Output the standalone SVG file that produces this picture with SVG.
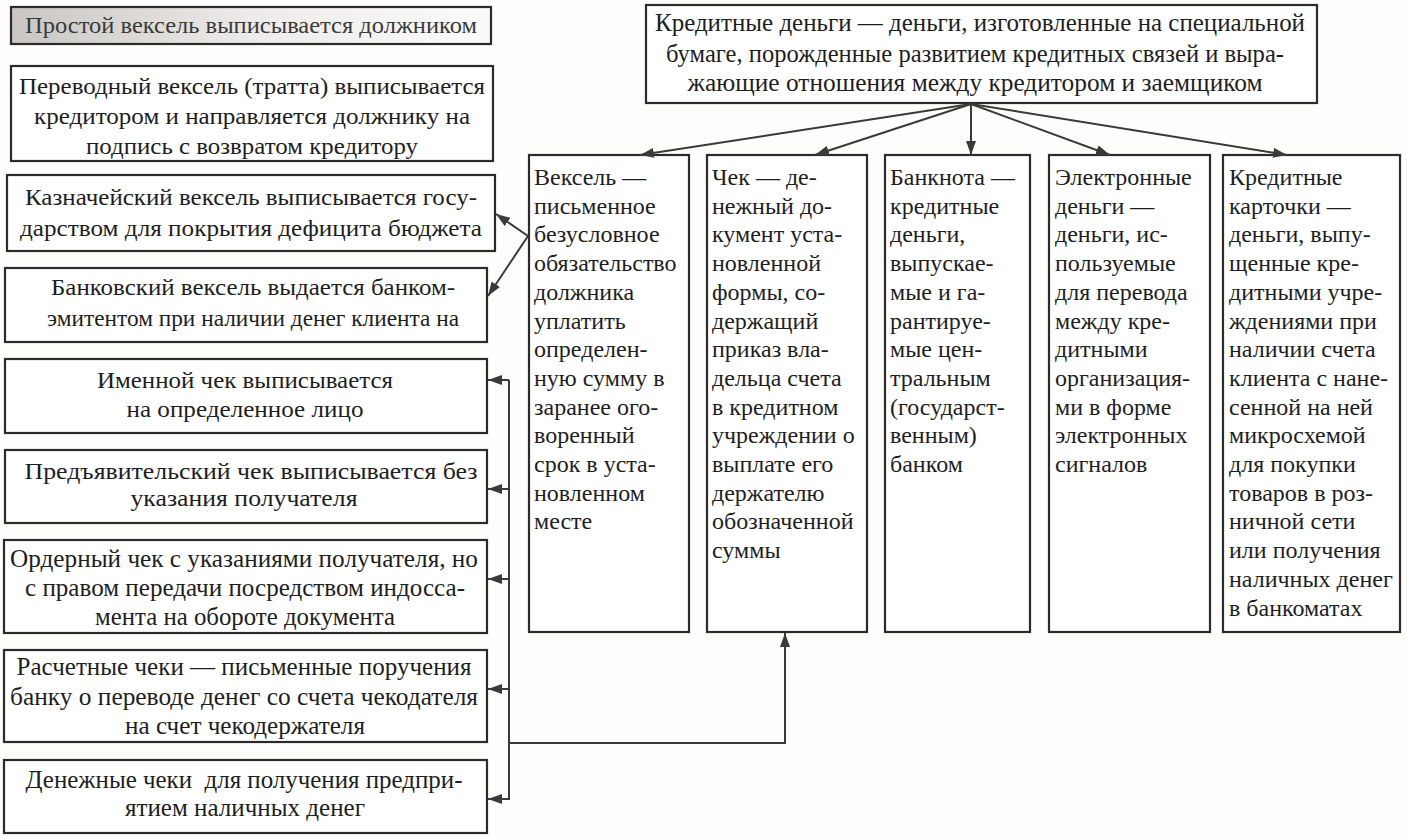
<svg xmlns="http://www.w3.org/2000/svg" width="1407" height="838" viewBox="0 0 1407 838">
<style>
.bx{fill:#fff;stroke:#2b2b2b;stroke-width:2.2}
text{font-family:'Liberation Serif','DejaVu Serif','Noto Serif','Times New Roman',serif;font-size:23px;fill:#1e1e1e}
.c{text-anchor:middle}
.n{font-size:25px}
.col{font-size:24px}
.ln{fill:none;stroke:#3a3a3a;stroke-width:2}
</style>
<defs>
<marker id="ah" viewBox="0 0 14 10" refX="14" refY="5" markerWidth="14" markerHeight="10" markerUnits="userSpaceOnUse" orient="auto">
<path d="M0,0 L14,5 L0,10 z" fill="#3a3a3a"/>
</marker>
<linearGradient id="g1" x1="0" y1="0" x2="1" y2="0">
<stop offset="0" stop-color="#c9c6c2"/>
<stop offset="0.5" stop-color="#ecebe9"/>
<stop offset="1" stop-color="#fbfbfa"/>
</linearGradient>
</defs>
<rect width="1407" height="838" fill="#fdfdfc"/>

<g id="n-prostoy">
<rect class="bx" x="11" y="7" width="480" height="37" style="fill:url(#g1)"/>
<text class="c" x="251" y="33" textLength="452" lengthAdjust="spacingAndGlyphs" style="fill:#3a3a3a">Простой вексель выписывается должником</text>
</g>
<g id="n-perevodnoy">
<rect class="bx" x="11" y="66" width="482" height="95"/>
<text class="c" x="252" y="94" textLength="466" lengthAdjust="spacingAndGlyphs">Переводный вексель (тратта) выписывается</text>
<text class="c" x="252" y="124" textLength="436" lengthAdjust="spacingAndGlyphs">кредитором и направляется должнику на</text>
<text class="c" x="252" y="154" textLength="332" lengthAdjust="spacingAndGlyphs">подпись с возвратом кредитору</text>
</g>
<g id="n-kaznach">
<rect class="bx" x="7" y="175" width="488" height="76"/>
<text class="c" x="251" y="205" textLength="452" lengthAdjust="spacingAndGlyphs">Казначейский вексель выписывается госу-</text>
<text class="c" x="251" y="236" textLength="462" lengthAdjust="spacingAndGlyphs">дарством для покрытия дефицита бюджета</text>
</g>
<g id="n-bankovsky">
<rect class="bx" x="5" y="268" width="482" height="74"/>
<text class="c" x="253" y="295" textLength="404" lengthAdjust="spacingAndGlyphs">Банковский вексель выдается банком-</text>
<text class="c" x="253" y="326" textLength="412" lengthAdjust="spacingAndGlyphs">эмитентом при наличии денег клиента на</text>
</g>
<g id="n-imennoy">
<rect class="bx" x="5" y="359" width="482" height="74"/>
<text class="c" x="245" y="388" textLength="296" lengthAdjust="spacingAndGlyphs">Именной чек выписывается</text>
<text class="c" x="245" y="417" textLength="237" lengthAdjust="spacingAndGlyphs">на определенное лицо</text>
</g>
<g id="n-predyav">
<rect class="bx" x="5" y="450" width="482" height="73"/>
<text class="c" x="251" y="479" textLength="453" lengthAdjust="spacingAndGlyphs">Предъявительский чек выписывается без</text>
<text class="c" x="244" y="506" textLength="227" lengthAdjust="spacingAndGlyphs">указания получателя</text>
</g>
<g id="n-order">
<rect class="bx" x="4" y="540" width="483" height="93"/>
<text class="n c" x="244" y="567" textLength="468" lengthAdjust="spacingAndGlyphs">Ордерный чек с указаниями получателя, но</text>
<text class="n c" x="245" y="596" textLength="440" lengthAdjust="spacingAndGlyphs">с правом передачи посредством индосса-</text>
<text class="n c" x="245" y="625" textLength="300" lengthAdjust="spacingAndGlyphs">мента на обороте документа</text>
</g>
<g id="n-raschet">
<rect class="bx" x="4" y="650" width="483" height="92"/>
<text class="n c" x="244" y="675" textLength="455" lengthAdjust="spacingAndGlyphs">Расчетные чеки — письменные поручения</text>
<text class="n c" x="244" y="705" textLength="468" lengthAdjust="spacingAndGlyphs">банку о переводе денег со счета чекодателя</text>
<text class="n c" x="245" y="734" textLength="240" lengthAdjust="spacingAndGlyphs">на счет чекодержателя</text>
</g>
<g id="n-denezhnye">
<rect class="bx" x="4" y="760" width="483" height="73"/>
<text class="n c" x="244" y="788" textLength="437" xml:space="preserve" lengthAdjust="spacingAndGlyphs">Денежные чеки  для получения предпри-</text>
<text class="n c" x="245" y="816" textLength="240" lengthAdjust="spacingAndGlyphs">ятием наличных денег</text>
</g>

<g id="n-kredit">
<rect class="bx" x="646" y="5" width="671" height="98"/>
<text class="n c" x="980" y="31" textLength="650" lengthAdjust="spacingAndGlyphs">Кредитные деньги — деньги, изготовленные на специальной</text>
<text class="n c" x="975" y="62" textLength="618" lengthAdjust="spacingAndGlyphs">бумаге, порожденные развитием кредитных связей и выра-</text>
<text class="n c" x="975" y="91" textLength="575" lengthAdjust="spacingAndGlyphs">жающие отношения между кредитором и заемщиком</text>
</g>

<g id="n-veksel">
<rect class="bx" x="529" y="155" width="160" height="477"/>
<text class="col" x="534" y="185">
<tspan x="534">Вексель —</tspan>
<tspan x="534" dy="28.7">письменное</tspan>
<tspan x="534" dy="28.7">безусловное</tspan>
<tspan x="534" dy="28.7">обязательство</tspan>
<tspan x="534" dy="28.7">должника</tspan>
<tspan x="534" dy="28.7">уплатить</tspan>
<tspan x="534" dy="28.7">определен-</tspan>
<tspan x="534" dy="28.7">ную сумму в</tspan>
<tspan x="534" dy="28.7">заранее ого-</tspan>
<tspan x="534" dy="28.7">воренный</tspan>
<tspan x="534" dy="28.7">срок в уста-</tspan>
<tspan x="534" dy="28.7">новленном</tspan>
<tspan x="534" dy="28.7">месте</tspan>
</text>
</g>
<g id="n-chek">
<rect class="bx" x="707" y="155" width="160" height="477"/>
<text class="col" x="712" y="185">
<tspan x="712">Чек — де-</tspan>
<tspan x="712" dy="28.7">нежный до-</tspan>
<tspan x="712" dy="28.7">кумент уста-</tspan>
<tspan x="712" dy="28.7">новленной</tspan>
<tspan x="712" dy="28.7">формы, со-</tspan>
<tspan x="712" dy="28.7">держащий</tspan>
<tspan x="712" dy="28.7">приказ вла-</tspan>
<tspan x="712" dy="28.7">дельца счета</tspan>
<tspan x="712" dy="28.7">в кредитном</tspan>
<tspan x="712" dy="28.7">учреждении о</tspan>
<tspan x="712" dy="28.7">выплате его</tspan>
<tspan x="712" dy="28.7">держателю</tspan>
<tspan x="712" dy="28.7">обозначенной</tspan>
<tspan x="712" dy="28.7">суммы</tspan>
</text>
</g>
<g id="n-banknota">
<rect class="bx" x="885" y="155" width="145" height="477"/>
<text class="col" x="890" y="185">
<tspan x="890">Банкнота —</tspan>
<tspan x="890" dy="28.7">кредитные</tspan>
<tspan x="890" dy="28.7">деньги,</tspan>
<tspan x="890" dy="28.7">выпускае-</tspan>
<tspan x="890" dy="28.7">мые и га-</tspan>
<tspan x="890" dy="28.7">рантируе-</tspan>
<tspan x="890" dy="28.7">мые цен-</tspan>
<tspan x="890" dy="28.7">тральным</tspan>
<tspan x="890" dy="28.7">(государст-</tspan>
<tspan x="890" dy="28.7">венным)</tspan>
<tspan x="890" dy="28.7">банком</tspan>
</text>
</g>
<g id="n-elektron">
<rect class="bx" x="1049" y="155" width="161" height="477"/>
<text class="col" x="1055" y="185">
<tspan x="1055">Электронные</tspan>
<tspan x="1055" dy="28.7">деньги —</tspan>
<tspan x="1055" dy="28.7">деньги, ис-</tspan>
<tspan x="1055" dy="28.7">пользуемые</tspan>
<tspan x="1055" dy="28.7">для перевода</tspan>
<tspan x="1055" dy="28.7">между кре-</tspan>
<tspan x="1055" dy="28.7">дитными</tspan>
<tspan x="1055" dy="28.7">организация-</tspan>
<tspan x="1055" dy="28.7">ми в форме</tspan>
<tspan x="1055" dy="28.7">электронных</tspan>
<tspan x="1055" dy="28.7">сигналов</tspan>
</text>
</g>
<g id="n-kartochki">
<rect class="bx" x="1223" y="155" width="177" height="477"/>
<text class="col" x="1229" y="185">
<tspan x="1229">Кредитные</tspan>
<tspan x="1229" dy="28.7">карточки —</tspan>
<tspan x="1229" dy="28.7">деньги, выпу-</tspan>
<tspan x="1229" dy="28.7">щенные кре-</tspan>
<tspan x="1229" dy="28.7">дитными учре-</tspan>
<tspan x="1229" dy="28.7">ждениями при</tspan>
<tspan x="1229" dy="28.7">наличии счета</tspan>
<tspan x="1229" dy="28.7">клиента с нане-</tspan>
<tspan x="1229" dy="28.7">сенной на ней</tspan>
<tspan x="1229" dy="28.7">микросхемой</tspan>
<tspan x="1229" dy="28.7">для покупки</tspan>
<tspan x="1229" dy="28.7">товаров в роз-</tspan>
<tspan x="1229" dy="28.7">ничной сети</tspan>
<tspan x="1229" dy="28.7">или получения</tspan>
<tspan x="1229" dy="28.7">наличных денег</tspan>
<tspan x="1229" dy="28.7">в банкоматах</tspan>
</text>
</g>

<g id="connectors">
<line class="ln" x1="971" y1="104" x2="640" y2="155" marker-end="url(#ah)"/>
<line class="ln" x1="971" y1="104" x2="815" y2="155" marker-end="url(#ah)"/>
<line class="ln" x1="971" y1="104" x2="971" y2="155" marker-end="url(#ah)"/>
<line class="ln" x1="971" y1="104" x2="1110" y2="155" marker-end="url(#ah)"/>
<line class="ln" x1="971" y1="104" x2="1287" y2="155" marker-end="url(#ah)"/>
<line class="ln" x1="528" y1="236" x2="496" y2="214" marker-end="url(#ah)"/>
<line class="ln" x1="528" y1="236" x2="488" y2="296" marker-end="url(#ah)"/>
<polyline class="ln" points="509,380 509,800"/>
<line class="ln" x1="509" y1="380" x2="488" y2="380" marker-end="url(#ah)"/>
<line class="ln" x1="509" y1="489" x2="488" y2="489" marker-end="url(#ah)"/>
<line class="ln" x1="509" y1="579" x2="488" y2="579" marker-end="url(#ah)"/>
<line class="ln" x1="509" y1="689" x2="488" y2="689" marker-end="url(#ah)"/>
<line class="ln" x1="509" y1="799" x2="488" y2="799" marker-end="url(#ah)"/>
<polyline class="ln" points="509,743 785,743 785,633" marker-end="url(#ah)"/>
</g>
</svg>
